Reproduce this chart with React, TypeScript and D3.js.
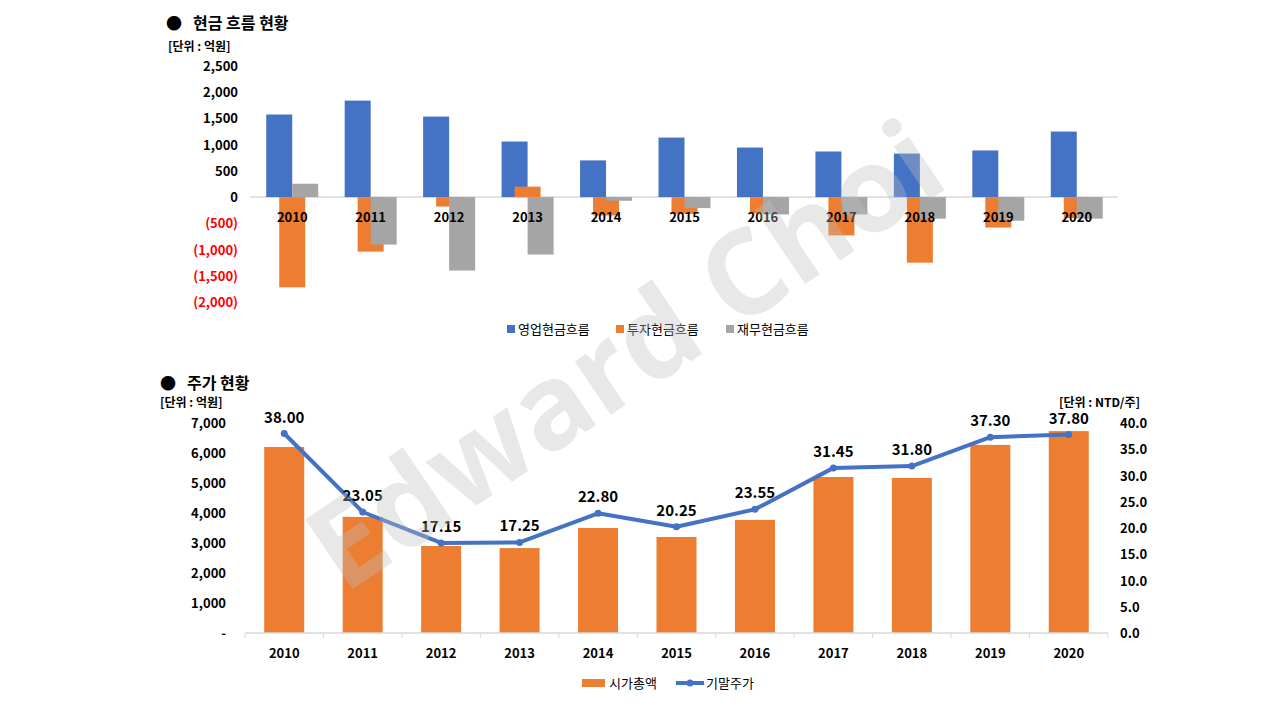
import React, { useEffect, useRef } from "react";
import * as d3 from "d3";

const years = ["2010", "2011", "2012", "2013", "2014", "2015", "2016", "2017", "2018", "2019", "2020"];
const operating = [1575, 1840, 1535, 1060, 700, 1135, 945, 870, 830, 890, 1250];
const investing = [-1720, -1040, -180, 200, -350, -320, -310, -730, -1250, -580, -400];
const financing = [255, -905, -1400, -1095, -70, -210, -330, -330, -410, -450, -410];
const cashTicks = [2500, 2000, 1500, 1000, 500, 0, -500, -1000, -1500, -2000];

const marketCap = [6200, 3870, 2900, 2830, 3500, 3200, 3770, 5200, 5170, 6270, 6730];
const price = [38.0, 23.05, 17.15, 17.25, 22.8, 20.25, 23.55, 31.45, 31.8, 37.3, 37.8];
const capTicks = [0, 1000, 2000, 3000, 4000, 5000, 6000, 7000];
const priceTicks = [0, 5, 10, 15, 20, 25, 30, 35, 40];

const FONT = "'Noto Sans CJK KR', 'Noto Sans', sans-serif";
const BLUE = "#4472C4";
const ORANGE = "#ED7D31";
const GRAY = "#A5A5A5";

export default function App() {
  const ref = useRef<SVGSVGElement>(null);

  useEffect(() => {
    const svg = d3.select(ref.current);
    svg.selectAll("*").remove();
    svg.attr("font-family", FONT).attr("font-weight", "bold");

    // ---- top chart: cash flow
    const x1 = d3.scaleBand().domain(years).range([253, 1116]);
    const y1 = d3.scaleLinear().domain([-2000, 2500]).range([302, 66]);
    const bw = 26;

    svg.append("text").attr("x", 166).attr("y", 29).attr("font-size", 16).text("●");
    svg.append("text").attr("x", 193).attr("y", 29).attr("font-size", 16).text("현금 흐름 현황");
    svg.append("text").attr("x", 168).attr("y", 51).attr("font-size", 12).text("[단위 : 억원]");

    svg.selectAll(".ct").data(cashTicks).enter().append("text")
      .attr("x", 238).attr("y", d => y1(d) + 5).attr("text-anchor", "end").attr("font-size", 13)
      .attr("fill", d => (d < 0 ? "#FF0000" : "#000"))
      .text(d => (d < 0 ? "(" + d3.format(",")(-d) + ")" : d3.format(",")(d)));

    svg.append("line").attr("x1", 250).attr("x2", 1118).attr("y1", y1(0)).attr("y2", y1(0))
      .attr("stroke", "#D9D9D9").attr("stroke-width", 1.5);

    const series = [
      { vals: operating, color: BLUE, off: -bw },
      { vals: investing, color: ORANGE, off: -bw / 2 },
      { vals: financing, color: GRAY, off: 0 },
    ];
    series.forEach(s => {
      svg.append("g").selectAll("rect").data(s.vals).enter().append("rect")
        .attr("x", (d, i) => x1(years[i])! + x1.bandwidth() / 2 + s.off)
        .attr("width", bw)
        .attr("y", d => y1(Math.max(0, d)))
        .attr("height", d => Math.abs(y1(d) - y1(0)))
        .attr("fill", s.color);
    });

    svg.append("g").selectAll("text").data(years).enter().append("text")
      .attr("x", d => x1(d)! + x1.bandwidth() / 2).attr("y", 222).attr("text-anchor", "middle")
      .attr("font-size", 13).text(d => d);

    const lg1 = [
      { label: "영업현금흐름", color: BLUE, x: 507 },
      { label: "투자현금흐름", color: ORANGE, x: 616 },
      { label: "재무현금흐름", color: GRAY, x: 726 },
    ];
    lg1.forEach(l => {
      svg.append("rect").attr("x", l.x).attr("y", 325).attr("width", 8).attr("height", 8).attr("fill", l.color);
      svg.append("text").attr("x", l.x + 11).attr("y", 334).attr("font-size", 13).attr("font-weight", "normal").text(l.label);
    });

    // ---- bottom chart: stock
    const x2 = d3.scaleBand().domain(years).range([245, 1108]);
    const yL = d3.scaleLinear().domain([0, 7000]).range([633, 423]);
    const yR = d3.scaleLinear().domain([0, 40]).range([633, 423]);

    svg.append("text").attr("x", 160).attr("y", 389).attr("font-size", 16).text("●");
    svg.append("text").attr("x", 187).attr("y", 389).attr("font-size", 16).text("주가 현황");
    svg.append("text").attr("x", 160).attr("y", 407).attr("font-size", 12).text("[단위 : 억원]");
    svg.append("text").attr("x", 1140).attr("y", 407).attr("text-anchor", "end").attr("font-size", 12).text("[단위 : NTD/주]");

    svg.selectAll(".lt").data(capTicks).enter().append("text")
      .attr("x", 226).attr("y", d => yL(d) + 5).attr("text-anchor", "end").attr("font-size", 13)
      .text(d => (d === 0 ? "-" : d3.format(",")(d)));
    svg.selectAll(".rt").data(priceTicks).enter().append("text")
      .attr("x", 1120).attr("y", d => yR(d) + 5).attr("font-size", 13)
      .text(d => d3.format(".1f")(d));

    svg.append("g").selectAll("rect").data(marketCap).enter().append("rect")
      .attr("x", (d, i) => x2(years[i])! + x2.bandwidth() / 2 - 20).attr("width", 40)
      .attr("y", d => yL(d)).attr("height", d => yL(0) - yL(d)).attr("fill", ORANGE);

    svg.append("line").attr("x1", 245).attr("x2", 1108).attr("y1", 633).attr("y2", 633)
      .attr("stroke", "#D9D9D9").attr("stroke-width", 1.5);
    svg.append("g").selectAll("line").data(d3.range(years.length + 1)).enter().append("line")
      .attr("x1", i => 245 + i * x2.step()).attr("x2", i => 245 + i * x2.step())
      .attr("y1", 633).attr("y2", 638).attr("stroke", "#D9D9D9");
    svg.append("g").selectAll("text").data(years).enter().append("text")
      .attr("x", d => x2(d)! + x2.bandwidth() / 2).attr("y", 658).attr("text-anchor", "middle")
      .attr("font-size", 13).text(d => d);

    const line = d3.line<number>()
      .x((d, i) => x2(years[i])! + x2.bandwidth() / 2)
      .y(d => yR(d));
    svg.append("path").datum(price).attr("d", line).attr("fill", "none")
      .attr("stroke", BLUE).attr("stroke-width", 4).attr("stroke-linejoin", "round");
    svg.append("g").selectAll("circle").data(price).enter().append("circle")
      .attr("cx", (d, i) => x2(years[i])! + x2.bandwidth() / 2).attr("cy", d => yR(d)).attr("r", 3.5).attr("fill", BLUE);
    svg.append("g").selectAll("text").data(price).enter().append("text")
      .attr("x", (d, i) => x2(years[i])! + x2.bandwidth() / 2).attr("y", d => yR(d) - 11)
      .attr("text-anchor", "middle").attr("font-size", 15).text(d => d3.format(".2f")(d));

    svg.append("rect").attr("x", 582).attr("y", 679).attr("width", 23).attr("height", 8).attr("fill", ORANGE);
    svg.append("text").attr("x", 609).attr("y", 688).attr("font-size", 13).attr("font-weight", "normal").text("시가총액");
    svg.append("line").attr("x1", 676).attr("x2", 704).attr("y1", 683).attr("y2", 683).attr("stroke", BLUE).attr("stroke-width", 4);
    svg.append("circle").attr("cx", 690).attr("cy", 683).attr("r", 3.5).attr("fill", BLUE);
    svg.append("text").attr("x", 706).attr("y", 688).attr("font-size", 13).attr("font-weight", "normal").text("기말주가");

    // watermark
    svg.append("text").attr("transform", "translate(648,390) rotate(-34)")
      .attr("text-anchor", "middle").attr("font-family", "'Open Sans', sans-serif").attr("font-size", 118)
      .attr("font-weight", "bold").attr("fill", "#BFBFBF").attr("opacity", 0.35).text("Edward Choi");
  }, []);

  return <svg ref={ref} width={1280} height={720} style={{ position: "absolute", left: 0, top: 0 }} />;
}
